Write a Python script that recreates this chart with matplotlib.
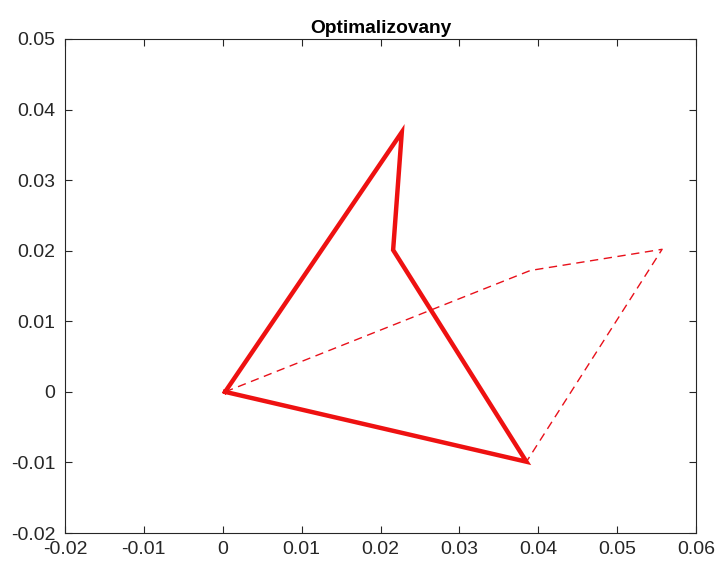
import matplotlib
matplotlib.use("Agg")
import matplotlib.pyplot as plt

solid_x = [0.0003, 0.0227, 0.0216, 0.0385, 0.0003]
solid_y = [0.0000, 0.0368, 0.0201, -0.0099, 0.0000]
dash_x = [0.0003, 0.0390, 0.0557, 0.0385]
dash_y = [0.0000, 0.0172, 0.0202, -0.0099]
xticks = [-0.02, -0.01, 0, 0.01, 0.02, 0.03, 0.04, 0.05, 0.06]
yticks = [-0.02, -0.01, 0, 0.01, 0.02, 0.03, 0.04, 0.05]
title = "Optimalizovany"

plt.rcParams['font.family'] = ['Liberation Sans', 'DejaVu Sans']
fig = plt.figure(figsize=(7.18, 5.70), dpi=100)
ax = fig.add_axes([0.0905, 0.0649, 0.8789, 0.8667])
ax.plot(dash_x, dash_y, color='#e8101a', lw=1.0, dashes=(6, 4))
ax.plot(solid_x, solid_y, color='#ee1111', lw=3.2, solid_joinstyle='miter')
ax.set_xlim(-0.02, 0.06)
ax.set_ylim(-0.02, 0.05)
ax.set_xticks(xticks)
ax.set_yticks(yticks)
ax.set_xticklabels([f"{v:g}" for v in xticks])
ax.set_yticklabels([f"{v:g}" for v in yticks])
ax.tick_params(direction='in', length=5, width=0.8, colors='#262626', labelsize=14,
               top=True, right=True)
ax.tick_params(axis='x', pad=6)
ax.tick_params(axis='y', pad=7)
for sp in ax.spines.values():
    sp.set_color('#262626')
    sp.set_linewidth(0.8)
ax.set_title(title, fontsize=13.8, fontweight='bold', pad=4)
fig.savefig("out.png", dpi=100, facecolor='white')
